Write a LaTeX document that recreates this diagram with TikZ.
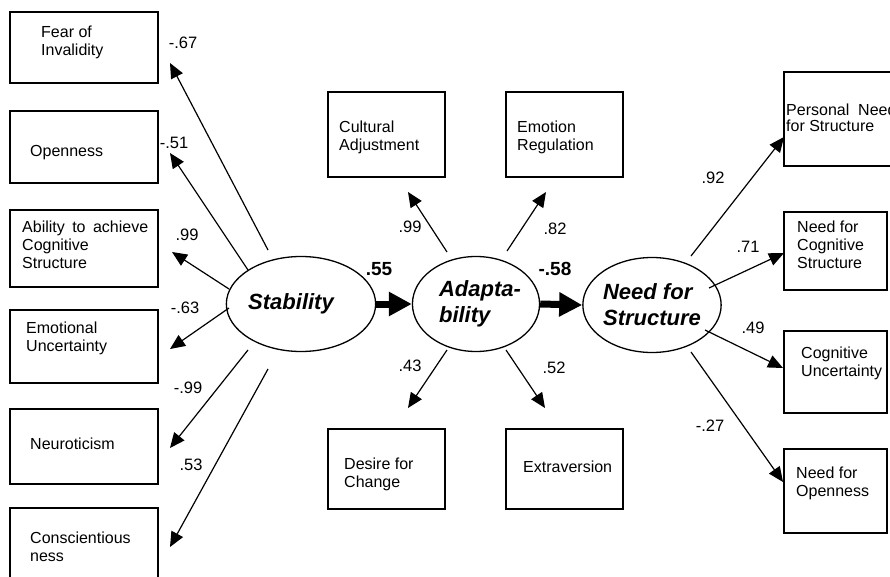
\documentclass[tikz,border=0pt]{standalone}
\usepackage{fontspec}
\setmainfont{Liberation Sans}
\usetikzlibrary{arrows.meta,shapes.geometric,calc}

\begin{document}
\begin{tikzpicture}[x=1pt,y=-1pt,
    obs/.style={draw,line width=1.4pt,rectangle,inner sep=0pt},
    lat/.style={draw,line width=1.3pt,ellipse,inner sep=0pt,minimum width=117pt,minimum height=95pt,
                align=left,font=\fontsize{22}{26}\selectfont\bfseries\itshape},
    txt/.style={anchor=west,inner sep=0pt,align=left,font=\fontsize{16}{18}\selectfont},
    coef/.style={inner sep=0pt,font=\fontsize{16.5}{18}\selectfont},
    bigcoef/.style={inner sep=0pt,font=\fontsize{19}{20}\selectfont\bfseries},
    load/.style={line width=1.2pt,-{Triangle[length=15pt,width=13pt]}},
    regr/.style={line width=7pt,-{Triangle[length=23pt,width=23pt]}}]
    \useasboundingbox (0,0) rectangle (890,577);

    \node[lat] (stab)  at (301,304) {Stability\hspace*{20pt}};
    \node[lat] (adapt) at (476,304) {\hspace*{8pt}Adapta-\\\hspace*{8pt}bility};
    \node[lat] (nfs)   at (652,305) {Need for\\Structure};

    \node[obs,minimum width=148pt,minimum height=71pt] (fear)  at (84,47.5)  {};
    \node[obs,minimum width=148pt,minimum height=72pt] (open)  at (84,147)   {};
    \node[obs,minimum width=148pt,minimum height=77pt] (abil)  at (84,248.5) {};
    \node[obs,minimum width=148pt,minimum height=73pt] (emot)  at (84,346.5) {};
    \node[obs,minimum width=148pt,minimum height=75pt] (neuro) at (84,446.5) {};
    \node[obs,minimum width=148pt,minimum height=77pt] (consc) at (84,546.5) {};
    \node[obs,minimum width=117pt,minimum height=85pt] (cult)  at (386.5,134.5) {};
    \node[obs,minimum width=117pt,minimum height=85pt] (emreg) at (564.5,134.5) {};
    \node[obs,minimum width=117pt,minimum height=80pt] (desire) at (386.5,469) {};
    \node[obs,minimum width=117pt,minimum height=80pt] (extra) at (564.5,469) {};
    \node[obs,minimum width=121pt,minimum height=94pt] (pns)   at (844.5,119) {};
    \node[obs,minimum width=103pt,minimum height=78pt] (nfcs)  at (835.5,251) {};
    \node[obs,minimum width=103pt,minimum height=82pt] (cogu)  at (835.5,372) {};
    \node[obs,minimum width=103pt,minimum height=84pt] (nfo)   at (835.5,491) {};

    \node[txt] (feart)   at (41,42)   {Fear of\\Invalidity};
    \node[txt] (opent)   at (30,153)  {Openness};
    \node[txt] (abilt)   at (22,245)  {\makebox[126pt][s]{Ability to achieve}\\Cognitive\\Structure};
    \node[txt] (emott)   at (26,338)  {Emotional\\Uncertainty};
    \node[txt] (neurot)  at (30,444)  {Neuroticism};
    \node[txt] (consct)  at (30,547)  {Conscientious\\ness};
    \node[txt] (cultt)   at (339,137) {Cultural\\Adjustment};
    \node[txt] (emregt)  at (517,137) {Emotion\\Regulation};
    \node[txt] (desiret) at (344,474) {Desire for\\Change};
    \node[txt] (extrat)  at (523,467) {Extraversion};
    \node[txt,font=\fontsize{16}{16}\selectfont] (pnst) at (786,118) {Personal\ \ Need\\for Structure};
    \node[txt] (nfcst)   at (797,245) {Need for\\Cognitive\\Structure};
    \node[txt] (cogut)   at (801,363) {Cognitive\\Uncertainty};
    \node[txt] (nfot)    at (796,483) {Need for\\Openness};

    \coordinate (s1) at ($(stab)+(-33,-54)$); \coordinate (s2) at ($(stab)+(-53,-34)$);
    \coordinate (s3) at ($(stab)+(-72,-15)$); \coordinate (s4) at ($(stab)+(-72,4)$);
    \coordinate (s5) at ($(stab)+(-53,46)$);  \coordinate (s6) at ($(stab)+(-33,65)$);
    \coordinate (a1) at ($(adapt)+(-29,-52)$); \coordinate (a2) at ($(adapt)+(31,-53)$);
    \coordinate (a3) at ($(adapt)+(-29,46)$);  \coordinate (a4) at ($(adapt)+(30,46)$);
    \coordinate (n1) at ($(nfs)+(39,-49)$); \coordinate (n2) at ($(nfs)+(57,-17)$);
    \coordinate (n3) at ($(nfs)+(53,25)$);  \coordinate (n4) at ($(nfs)+(39,47)$);

    \coordinate (fearTip)  at (170,63);  \coordinate (openTip)  at (170,153);
    \coordinate (abilTip)  at (172,252); \coordinate (emotTip)  at (170,349);
    \coordinate (neuroTip) at (170,448); \coordinate (conscTip) at (170,547);
    \coordinate (cultTip)  at (408,192); \coordinate (emregTip) at (546,192);
    \coordinate (desireTip) at (408,408); \coordinate (extraTip) at (545,408);
    \coordinate (pnsTip)   at (784,137); \coordinate (nfcsTip)  at (784,253);
    \coordinate (coguTip)  at (783,368); \coordinate (nfoTip)   at (783,482);

    \draw[load] (s1) -- (fearTip);  \draw[load] (s2) -- (openTip);
    \draw[load] (s3) -- (abilTip);  \draw[load] (s4) -- (emotTip);
    \draw[load] (s5) -- (neuroTip); \draw[load] (s6) -- (conscTip);
    \draw[load] (a1) -- (cultTip);  \draw[load] (a2) -- (emregTip);
    \draw[load] (a3) -- (desireTip); \draw[load] (a4) -- (extraTip);
    \draw[load] (n1) -- (pnsTip);   \draw[load] (n2) -- (nfcsTip);
    \draw[load] (n3) -- (coguTip);  \draw[load] (n4) -- (nfoTip);

    \draw[regr] (stab.east) -- (adapt.west);
    \draw[regr] (adapt.east) -- (nfs.west);

    \node[coef] (c1)  at (183,43)  {-.67};
    \node[coef] (c2)  at (174,143) {-.51};
    \node[coef] (c3)  at (187,235) {.99};
    \node[coef] (c4)  at (185,308) {-.63};
    \node[coef] (c5)  at (188,388) {-.99};
    \node[coef] (c6)  at (191,465) {.53};
    \node[coef] (c7)  at (410,227) {.99};
    \node[coef] (c8)  at (555,229) {.82};
    \node[coef] (c9)  at (410,366) {.43};
    \node[coef] (c10) at (554,368) {.52};
    \node[coef] (c11) at (713,178) {.92};
    \node[coef] (c12) at (748,247) {.71};
    \node[coef] (c13) at (753,328) {.49};
    \node[coef] (c14) at (710,426) {-.27};
    \node[bigcoef] (b1) at (379,269) {.55};
    \node[bigcoef] (b2) at (555,269) {-.58};
\end{tikzpicture}
\end{document}
